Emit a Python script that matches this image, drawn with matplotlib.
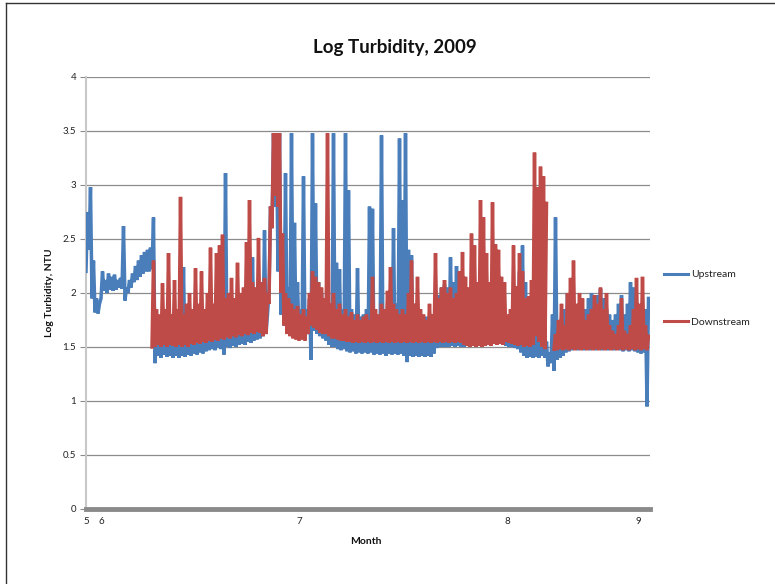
import numpy as np
import matplotlib
matplotlib.use("Agg")
import matplotlib.pyplot as plt
from matplotlib.lines import Line2D

# ---------------- data ----------------
# each sample column holds the low and the high reading of a dense burst
upstream_low = [
    2.20, 2.40, 1.95, 1.82, 1.81, 1.95, 2.02, 2.00, 2.03, 2.02,
    2.03, 2.05, 2.04, 1.93, 2.00, 2.05, 2.10, 2.12, 2.15, 2.18,
    2.20, 2.20, 2.22, 1.35, 1.42, 1.40, 1.43, 1.41, 1.42, 1.40,
    1.42, 1.40, 1.42, 1.41, 1.43, 1.42, 1.44, 1.43, 1.45, 1.44,
    1.46, 1.47, 1.48, 1.47, 1.49, 1.48, 1.43, 1.50, 1.49, 1.51,
    1.50, 1.52, 1.53, 1.52, 1.55, 1.54, 1.56, 1.57, 1.58, 1.60,
    1.62, 2.00, 2.60, 2.80, 2.20, 1.80, 1.70, 1.68, 1.66, 1.64,
    1.62, 1.60, 1.60, 1.58, 1.62, 1.38, 1.65, 1.62, 1.60, 1.58,
    1.56, 1.52, 1.50, 1.50, 1.48, 1.47, 1.48, 1.46, 1.45, 1.46,
    1.44, 1.45, 1.44, 1.45, 1.44, 1.45, 1.43, 1.44, 1.43, 1.44,
    1.42, 1.44, 1.43, 1.44, 1.43, 1.44, 1.42, 1.36, 1.42, 1.41,
    1.42, 1.41, 1.42, 1.41, 1.42, 1.41, 1.44, 1.49, 1.50, 1.50,
    1.50, 1.50, 1.51, 1.50, 1.51, 1.50, 1.50, 1.51, 1.50, 1.52,
    1.51, 1.52, 1.53, 1.52, 1.55, 1.55, 1.56, 1.55, 1.53, 1.52,
    1.51, 1.50, 1.50, 1.49, 1.48, 1.45, 1.42, 1.40, 1.41, 1.40,
    1.41, 1.40, 1.42, 1.40, 1.32, 1.35, 1.28, 1.38, 1.40, 1.42,
    1.45, 1.46, 1.47, 1.48, 1.47, 1.48, 1.47, 1.48, 1.47, 1.48,
    1.47, 1.48, 1.47, 1.48, 1.47, 1.48, 1.47, 1.48, 1.47, 1.46,
    1.47, 1.46, 1.47, 1.46, 1.45, 1.44, 1.45, 0.95,
]
upstream_high = [
    2.75, 2.98, 2.30, 1.95, 1.90, 2.20, 2.12, 2.18, 2.15, 2.17,
    2.12, 2.14, 2.62, 2.05, 2.12, 2.18, 2.25, 2.30, 2.35, 2.38,
    2.40, 2.42, 2.70, 1.62, 1.70, 1.75, 1.68, 1.72, 1.70, 1.75,
    1.68, 1.72, 2.24, 1.70, 1.75, 1.72, 1.78, 1.74, 1.80, 1.76,
    1.82, 1.78, 1.85, 1.80, 1.86, 1.90, 3.11, 1.85, 1.88, 1.84,
    1.90, 1.86, 1.92, 1.88, 1.95, 2.33, 1.92, 1.98, 2.00, 2.58,
    1.80, 2.80, 3.48, 3.48, 3.48, 2.40, 3.11, 2.05, 3.48, 2.65,
    2.10, 1.85, 3.08, 1.85, 1.95, 3.48, 2.83, 2.10, 2.00, 1.90,
    1.85, 1.90, 3.48, 2.28, 2.22, 1.85, 3.48, 2.95, 1.85, 1.80,
    2.23, 1.78, 1.80, 1.85, 2.80, 2.78, 1.80, 1.78, 3.46, 1.80,
    1.85, 1.80, 2.60, 1.90, 3.43, 2.86, 3.48, 2.40, 2.35, 1.90,
    1.85, 1.80, 1.75, 1.78, 1.75, 1.72, 1.80, 1.98, 2.05, 2.08,
    2.05, 2.33, 2.10, 2.25, 2.00, 2.05, 1.95, 1.90, 2.00, 1.95,
    1.90, 2.00, 1.95, 1.90, 1.85, 1.90, 1.85, 1.80, 1.78, 1.75,
    1.70, 1.72, 1.85, 1.95, 2.20, 2.44, 2.10, 1.80, 1.70, 1.65,
    1.60, 1.62, 1.60, 1.55, 1.45, 1.80, 2.70, 1.75, 1.70, 1.85,
    2.00, 1.85, 1.80, 1.75, 1.80, 1.75, 1.85, 1.95, 2.00, 1.90,
    1.98, 2.04, 1.95, 1.85, 1.80, 1.75, 1.80, 1.90, 1.98, 1.80,
    1.90, 2.10, 2.05, 1.90, 1.80, 1.75, 1.85, 1.95,
]
downstream_start = 22  # first sample column with a downstream reading
nan = float("nan")
downstream_low = [
    1.50, 1.50, 1.52, 1.50, 1.52, 1.50, 1.52, 1.51, 1.50, 1.52,
    1.50, 1.52, 1.50, 1.53, 1.52, 1.54, 1.53, 1.55, 1.54, 1.56,
    1.55, 1.57, 1.56, 1.58, 1.57, 1.59, 1.58, 1.60, 1.59, 1.61,
    1.60, 1.62, 1.61, 1.63, 1.62, 1.64, 1.63, 1.60, 1.62, 1.90,
    2.60, 2.90, 2.80, 2.00, 1.70, 1.62, 1.60, 1.58, 1.57, 1.56,
    1.57, 1.56, 1.62, 1.70, 1.68, 1.66, 1.63, 1.62, 1.62, 1.60,
    1.58, 1.58, 1.57, 1.56, 1.56, 1.55, 1.55, 1.54, 1.55, 1.54,
    1.55, 1.54, 1.55, 1.54, 1.55, 1.54, 1.55, 1.54, 1.55, 1.54,
    1.55, 1.54, 1.55, 1.54, 1.55, 1.54, 1.55, 1.54, 1.55, 1.54,
    1.55, 1.54, 1.55, 1.54, 1.55, 1.54, 1.55, 1.54, 1.55, 1.54,
    1.55, 1.54, 1.55, 1.54, 1.52, 1.51, 1.50, 1.51, 1.50, 1.51,
    1.50, 1.51, 1.52, 1.51, 1.53, 1.52, 1.53, 1.52, 1.55, 1.54,
    1.53, 1.52, 1.51, 1.52, 1.50, 1.51, 1.50, 1.52, 1.60, 1.55,
    1.50, 1.48, nan, nan, 1.48, 1.47, 1.48, 1.47, 1.48, 1.47,
    1.48, 1.47, 1.48, 1.47, 1.48, 1.47, 1.48, 1.47, 1.48, 1.47,
    1.48, 1.47, 1.48, 1.47, 1.48, 1.47, 1.48, 1.47, 1.48, 1.47,
    1.48, 1.47, 1.48, 1.47, 1.48, 1.47,
]
downstream_high = [
    2.30, 1.85, 1.80, 2.09, 1.85, 2.37, 1.80, 2.12, 1.85, 2.89,
    1.80, 1.90, 2.00, 1.85, 2.23, 1.90, 2.20, 1.85, 2.00, 2.42,
    1.90, 2.37, 2.44, 2.54, 1.95, 2.00, 2.14, 1.95, 2.28, 2.00,
    2.05, 2.47, 2.86, 2.10, 2.05, 2.51, 2.10, 2.14, 2.00, 2.80,
    3.48, 3.48, 3.48, 2.55, 2.00, 1.95, 1.90, 1.85, 1.88, 1.80,
    1.85, 1.78, 2.00, 2.20, 2.15, 2.10, 2.05, 1.95, 3.48, 1.90,
    2.00, 1.85, 1.90, 1.80, 1.85, 1.78, 1.82, 1.75, 1.80, 1.75,
    1.78, 1.80, 1.75, 2.15, 1.85, 1.80, 1.90, 1.85, 2.02, 2.24,
    1.90, 1.85, 1.80, 1.85, 1.80, 2.00, 2.30, 1.90, 2.15, 1.85,
    1.80, 1.75, 1.90, 1.80, 2.37, 1.95, 2.05, 2.12, 2.00, 2.05,
    1.95, 2.00, 2.20, 2.38, 2.15, 2.05, 2.55, 2.44, 2.10, 2.86,
    2.70, 2.37, 2.10, 2.84, 2.45, 2.40, 2.15, 2.10, 1.80, 1.85,
    2.44, 2.06, 2.37, 2.20, 1.95, 1.97, 2.12, 3.30, 2.98, 3.17,
    3.08, 2.83, nan, nan, 1.62, 1.75, 1.90, 1.70, 2.00, 2.14,
    2.30, 1.90, 2.00, 1.95, 1.75, 1.80, 1.85, 1.98, 1.90, 2.05,
    1.85, 2.00, 1.70, 1.65, 1.62, 1.70, 1.95, 1.65, 1.62, 1.70,
    1.85, 2.14, 1.90, 2.15, 1.70, 1.60,
]

month_labels = ["5", "6", "7", "8", "9"]
month_ticks = [0, 5, 71, 140.3, 184]   # sample column where each month label sits
y_ticks = [0, 0.5, 1, 1.5, 2, 2.5, 3, 3.5, 4]
y_tick_labels = ["0", "0.5", "1", "1.5", "2", "2.5", "3", "3.5", "4"]

BLUE = "#4A7EBB"
RED = "#BE4B48"
GRID = "#8C8C8C"
FONT = "Lato"


def burst_series(low, high, start):
    low = np.asarray(low, float)
    high = np.asarray(high, float)
    idx = np.arange(len(low)) + start
    x = np.column_stack([idx, idx + 0.5]).ravel()
    y = np.column_stack([low, high]).ravel()
    return x, y


fig = plt.figure(figsize=(7.75, 5.84), dpi=100)
ax = fig.add_axes([86 / 775, 75 / 584, 564 / 775, 432 / 584])

xu, yu = burst_series(upstream_low, upstream_high, 0)
xd, yd = burst_series(downstream_low, downstream_high, downstream_start)
ax.plot(xu, yu, color=BLUE, lw=2.5, solid_joinstyle="miter", label="Upstream", zorder=3)
ax.plot(xd, yd, color=RED, lw=2.5, solid_joinstyle="miter", label="Downstream", zorder=4)

ax.set_xlim(0, 188)
ax.set_ylim(0, 4)
ax.set_yticks(y_ticks)
ax.set_yticklabels(y_tick_labels, fontsize=7, family=FONT, color="#222222")
ax.set_xticks(month_ticks)
ax.set_xticklabels(month_labels, fontsize=7, family=FONT, color="#222222")
ax.tick_params(axis="y", length=4, width=0.8, color=GRID, pad=3)
ax.tick_params(axis="x", length=0, pad=6)
ax.yaxis.grid(True, color=GRID, lw=0.9)
ax.set_axisbelow(True)
for s in ("top", "right"):
    ax.spines[s].set_visible(False)
ax.spines["left"].set_color("#C8C8C8")
ax.spines["left"].set_linewidth(1.5)
ax.spines["bottom"].set_color("#8A8A8A")
ax.spines["bottom"].set_linewidth(3.5)
ax.spines["bottom"].set_zorder(5)

fig.text(395 / 775, 1 - 48 / 584, "Log Turbidity, 2009", ha="center", va="center",
         fontsize=13.5, fontweight="bold", family=FONT, color="#111111")
fig.text(50 / 775, 1 - 293 / 584, "Log Turbidity, NTU", ha="center", va="center",
         rotation=90, fontsize=7.5, fontweight="bold", family=FONT, color="#111111")
fig.text(366 / 775, 1 - 542 / 584, "Month", ha="center", va="center",
         fontsize=7.5, fontweight="bold", family=FONT, color="#111111")

handles = [Line2D([], [], color=BLUE, lw=2.2), Line2D([], [], color=RED, lw=2.2)]
fig.legend(handles, ["Upstream", "Downstream"], loc="center left",
           bbox_to_anchor=(655 / 775, 1 - 298.5 / 584), frameon=False,
           prop={"family": FONT, "size": 7.5}, handlelength=2.3, handletextpad=0.3,
           labelspacing=3.7, labelcolor="#222222")

# chart frame visible on left and top edges
fig.add_artist(Line2D([6 / 775, 6 / 775], [0, 1 - 3 / 584], transform=fig.transFigure,
                      color="#333333", lw=1.0))
fig.add_artist(Line2D([6 / 775, 1], [1 - 3 / 584, 1 - 3 / 584], transform=fig.transFigure,
                      color="#333333", lw=1.0))

fig.savefig("out.png", dpi=100)
